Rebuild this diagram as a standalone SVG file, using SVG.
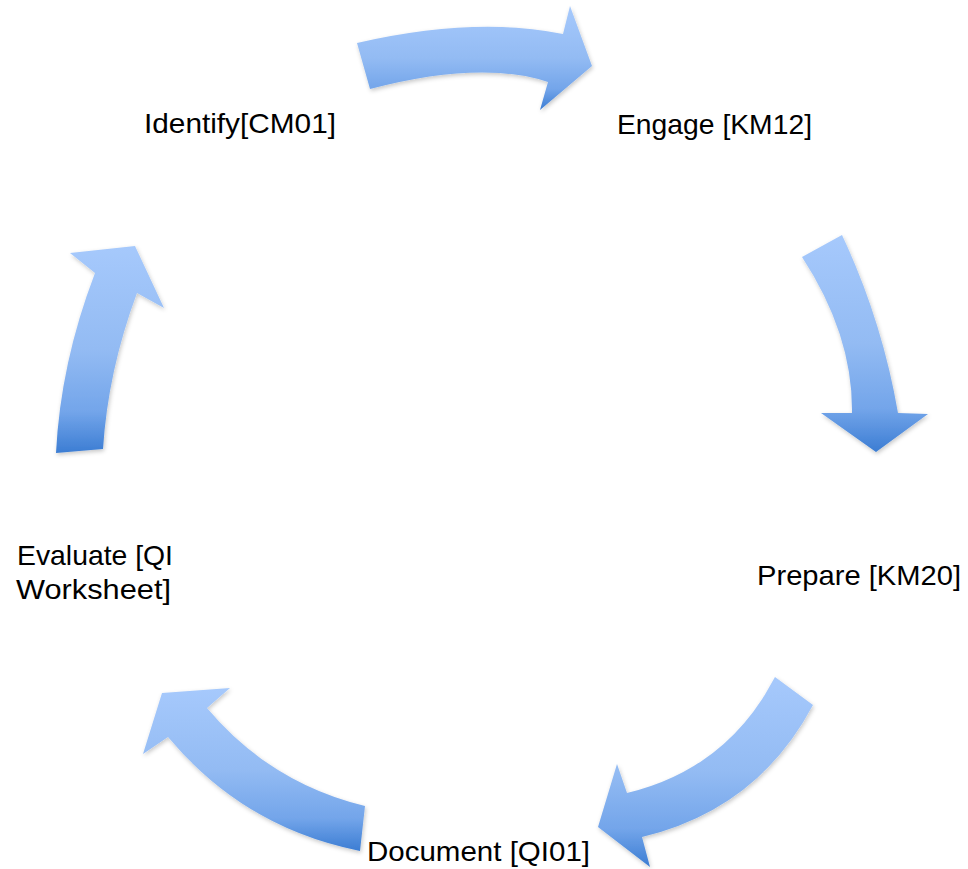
<svg xmlns="http://www.w3.org/2000/svg" width="968" height="869" viewBox="0 0 968 869">
<defs>
<linearGradient id="g" x1="0" y1="0" x2="0" y2="1">
<stop offset="0" stop-color="#A6C9FC"/>
<stop offset="0.5" stop-color="#93BBF3"/>
<stop offset="0.8" stop-color="#73A5EA"/>
<stop offset="1" stop-color="#3C7DD3"/>
</linearGradient>
<filter id="sh" x="-10%" y="-10%" width="130%" height="130%">
<feDropShadow dx="1" dy="2" stdDeviation="2" flood-color="#000" flood-opacity="0.22"/>
</filter>
<style>
.arr{fill:url(#g);filter:url(#sh);}
.lbl{font-family:"Liberation Sans",Arial,sans-serif;font-size:28px;fill:#000;}
</style>
</defs>
<rect width="968" height="869" fill="#fff"/>
<g id="connectors">
<path class="arr" d="M357,43 Q475,16 563,34 L570,6 L592,66 L540,110 L548,82 Q481,60 370,89 Z"/>
<path class="arr" d="M802,257 L842,235 Q882,320 898,413 L928,414 L876,452 L821,413 L852,413 Q853,335 802,257 Z"/>
<path class="arr" d="M775,677 L813,705 Q758,809 642,837 L650,867 L598,827 L617,764 L627,793 Q727,769 775,677 Z"/>
<path class="arr" d="M360,851 L365,806 Q270,783 207,708 L230,688 L162,693 L143,754 L168,737 Q244,828 360,851 Z"/>
<path class="arr" d="M56,453 L103,449 Q108,371 137,293 L164,308 L135,246 L70,253 L95,273 Q60.5,363 56,453 Z"/>
</g>
<g id="identify"><text class="lbl" x="144" y="133" textLength="192" lengthAdjust="spacingAndGlyphs">Identify[CM01]</text></g>
<g id="engage"><text class="lbl" x="617" y="134" textLength="195" lengthAdjust="spacingAndGlyphs">Engage [KM12]</text></g>
<g id="prepare"><text class="lbl" x="757" y="585" textLength="204" lengthAdjust="spacingAndGlyphs">Prepare [KM20]</text></g>
<g id="document"><text class="lbl" x="367" y="861" textLength="223" lengthAdjust="spacingAndGlyphs">Document [QI01]</text></g>
<g id="evaluate"><text class="lbl" x="17" y="565" textLength="156" lengthAdjust="spacingAndGlyphs">Evaluate [QI</text><text class="lbl" x="16" y="599" textLength="155" lengthAdjust="spacingAndGlyphs">Worksheet]</text></g>
</svg>
